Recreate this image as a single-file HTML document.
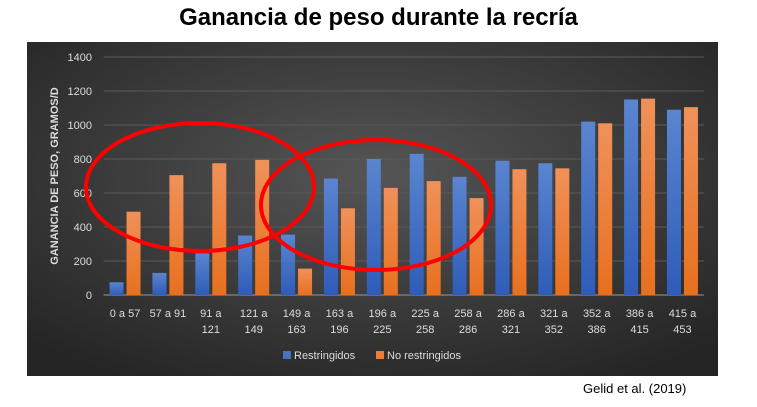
<!DOCTYPE html>
<html><head><meta charset="utf-8"><style>
body{margin:0;width:757px;height:407px;background:#fff;overflow:hidden;font-family:"Liberation Sans",sans-serif;}
#title{position:absolute;left:0;width:757px;top:4px;text-align:center;font-weight:bold;font-size:24px;color:#000;}
#foot{position:absolute;left:583px;top:381px;font-size:13px;color:#000;}
svg{position:absolute;left:0;top:0;}
</style></head><body>
<div id="title">Ganancia de peso durante la recría</div>
<svg id="chart" width="757" height="407">
<defs>
<radialGradient id="bg" cx="50%" cy="40%" r="70%"><stop offset="0" stop-color="#555"/><stop offset="1" stop-color="#252525"/></radialGradient>
<linearGradient id="gb" x1="0" y1="0" x2="0" y2="1"><stop offset="0" stop-color="#5b85d0"/><stop offset="1" stop-color="#2e5cb8"/></linearGradient>
<linearGradient id="go" x1="0" y1="0" x2="0" y2="1"><stop offset="0" stop-color="#f0915a"/><stop offset="1" stop-color="#e8701e"/></linearGradient>
</defs>
<rect x="27" y="42" width="691" height="334" fill="url(#bg)"/>
<g id="grid"></g><g id="bars"></g><g id="labels"></g>
<text x="58" y="176" transform="rotate(-90 58 176)" text-anchor="middle" fill="#ddd" font-size="11" font-weight="bold">GANANCIA DE PESO, GRAMOS/D</text>
<rect x="283" y="351" width="8" height="8" fill="#4472c4"/>
<text x="294" y="359" fill="#ddd" font-size="11">Restringidos</text>
<rect x="376" y="351" width="8" height="8" fill="#ed7d31"/>
<text x="387" y="359" fill="#ddd" font-size="11">No restringidos</text>
<ellipse cx="200" cy="187" rx="114" ry="64" fill="none" stroke="#f00" stroke-width="4"/>
<ellipse cx="376" cy="205" rx="115" ry="65" fill="none" stroke="#f00" stroke-width="4"/>
</svg>
<div id="foot">Gelid et al. (2019)</div>
<script>
const categories=[["0 a 57"],["57 a 91"],["91 a","121"],["121 a","149"],["149 a","163"],["163 a","196"],["196 a","225"],["225 a","258"],["258 a","286"],["286 a","321"],["321 a","352"],["352 a","386"],["386 a","415"],["415 a","453"]];
const restringidos=[75,130,245,350,355,685,800,830,695,790,775,1020,1150,1090];
const noRestringidos=[490,705,775,795,155,510,630,670,570,740,745,1010,1155,1105];
const yTicks=[0,200,400,600,800,1000,1200,1400];
const NS="http://www.w3.org/2000/svg";
const X0=103.6,X1=703.9,Y0=295,Y1=57,YMAX=1400;
const step=(X1-X0)/categories.length;
const y=v=>Y0-(v/YMAX)*(Y0-Y1);
const xc=i=>X0+step*(i+0.5);
function mk(tag,attrs,parent){const e=document.createElementNS(NS,tag);for(const k in attrs)e.setAttribute(k,attrs[k]);document.getElementById(parent).appendChild(e);return e;}
yTicks.forEach(t=>{
 const l=mk('line',{x1:X0,x2:X1,y1:y(t),y2:y(t),stroke:t===0?'#999':'#5a5a5a','stroke-width':1},'grid');
 
 
 const tx=mk('text',{x:92,y:y(t)+4,'text-anchor':'end',fill:'#ddd','font-size':11},'labels');
 tx.textContent=t;
 
 
});
const bw=14,gap=3;
categories.forEach((c,i)=>{
 const cx=xc(i);
 const b=mk('rect',{x:cx-bw-gap/2,y:y(restringidos[i]),width:bw,height:Y0-y(restringidos[i]),fill:'url(#gb)'},'bars');
 
 
 const o=mk('rect',{x:cx+gap/2,y:y(noRestringidos[i]),width:bw,height:Y0-y(noRestringidos[i]),fill:'url(#go)'},'bars');
 
 
 c.forEach((line,j)=>{
  const t=mk('text',{x:cx,y:317+j*16,'text-anchor':'middle',fill:'#ddd','font-size':11},'labels');
  t.textContent=line;
  
  
 });
});
</script>
</body></html>
